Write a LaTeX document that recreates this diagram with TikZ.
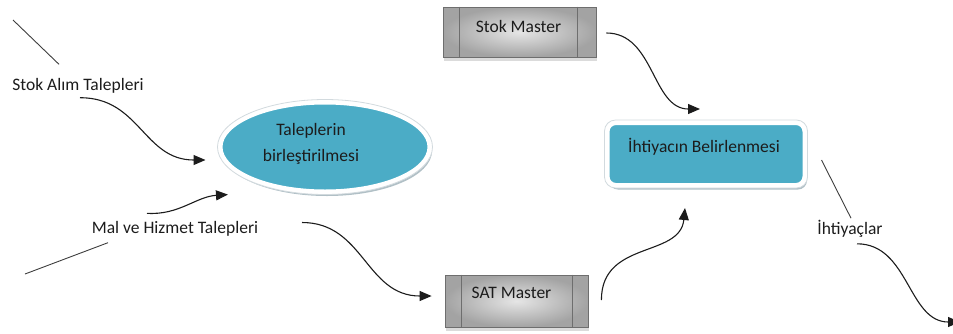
\documentclass[tikz,border=0pt]{standalone}
\usepackage{fontspec}
\setmainfont{Carlito}
\usetikzlibrary{shapes.geometric,arrows.meta,calc,shadows}
\definecolor{aqua}{HTML}{4BACC6}
\definecolor{rimline}{HTML}{D2DADE}
\definecolor{shadowc}{HTML}{9DB0B8}
\definecolor{boxline}{HTML}{6E6E6E}
\definecolor{ink}{HTML}{1C1C1C}
\begin{document}
\begin{tikzpicture}[x=1pt,y=-1pt,
  font=\fontsize{17.5}{20}\selectfont,
  arr/.style={draw=ink, line width=1.1pt, -{Triangle[length=12pt,width=10pt]}},
  plain/.style={draw=ink!85, line width=0.9pt},
  lbl/.style={inner sep=0pt, text=ink},
  master/.style={rectangle, draw=boxline, line width=0.8pt, inner color=gray!20, outer color=gray!72,
    drop shadow={shadow xshift=1pt, shadow yshift=-4pt, fill=gray!40, opacity=0.7}},
  divider/.style={draw=boxline, line width=0.8pt},
  bubble/.style={fill=aqua, draw=white, line width=5pt,
    drop shadow={shadow xshift=2pt, shadow yshift=-4pt, fill=shadowc, opacity=0.8}},
  rim/.style={draw=rimline, line width=0.8pt}]
\useasboundingbox (0,0) rectangle (953,333);

% processes
\node[bubble, ellipse, minimum width=210pt, minimum height=90pt,
  label={[lbl, align=center, font=\fontsize{17.5}{26}\selectfont, xshift=-14pt, yshift=3pt]center:Taleplerin\\birleştirilmesi}]
  (birl) at (325,147) {};
\draw[rim] (birl.center) ellipse [x radius=107.5, y radius=47.5];

\node[bubble, rectangle, rounded corners=9pt, minimum width=198pt, minimum height=63pt,
  label={[lbl, xshift=-2pt, yshift=7pt]center:İhtiyacın Belirlenmesi}]
  (iht) at (706,154) {};
\draw[rim, rounded corners=11pt] (iht.north west) rectangle (iht.south east);

% data stores
\node[master, minimum width=153pt, minimum height=50pt,
  label={[lbl, xshift=-1pt, yshift=6pt]center:Stok Master}] (sm) at (519.5,32) {};
\draw[divider] ([xshift=17pt]sm.north west) -- ([xshift=17pt]sm.south west);
\draw[divider] ([xshift=-19pt]sm.north east) -- ([xshift=-19pt]sm.south east);

\node[master, minimum width=143pt, minimum height=52pt,
  label={[lbl, xshift=-5pt, yshift=8pt]center:SAT Master}] (sat) at (516.5,301) {};
\draw[divider] ([xshift=17pt]sat.north west) -- ([xshift=17pt]sat.south west);
\draw[divider] ([xshift=-16pt]sat.north east) -- ([xshift=-16pt]sat.south east);

% flow labels
\node[lbl] (sal) at (78,86) {Stok Alım Talepleri};
\node[lbl] (mal) at (175,229) {Mal ve Hizmet Talepleri};
\node[lbl] (ihty) at (850,229) {İhtiyaçlar};

\coordinate (tl) at (13,20);
\coordinate (bl) at (25,274);
\coordinate (off) at (960,322);

% plain lines
\draw[plain] (tl) -- ($(sal.north)+(-19,-14)$);
\draw[plain] (bl) -- ($(mal.south)+(-67,6)$);
\draw[plain] ($(iht.east)+(14,6)$) -- ($(ihty.north)+(1,-2)$);

% flows
\draw[arr] ($(sal.south)+(2,4)$) .. controls +(60,0) and +(-62,0) .. ($(birl.west)+(-12,13)$);
\draw[arr] ($(mal.north)+(-28,-8)$) .. controls +(32,2) and +(-32,2) .. ($(birl.south west)+(-21,14)$);
\draw[arr] ($(birl.south)+(-23,28)$) .. controls +(62,0) and +(-66,0) .. ($(sat.west)+(-13,-5)$);
\draw[arr] ($(sm.east)+(10,1)$) .. controls +(48,0) and +(-48,0) .. ($(iht.north)+(-6,-11)$);
\draw[arr] ($(sat.east)+(13,-1)$) .. controls +(0,-60) and +(-5,50) .. ($(iht.south)+(-21,20)$);
\draw[arr] ($(ihty.south)+(7,6)$) .. controls +(52,0) and +(-52,0) .. (off);
\end{tikzpicture}
\end{document}
